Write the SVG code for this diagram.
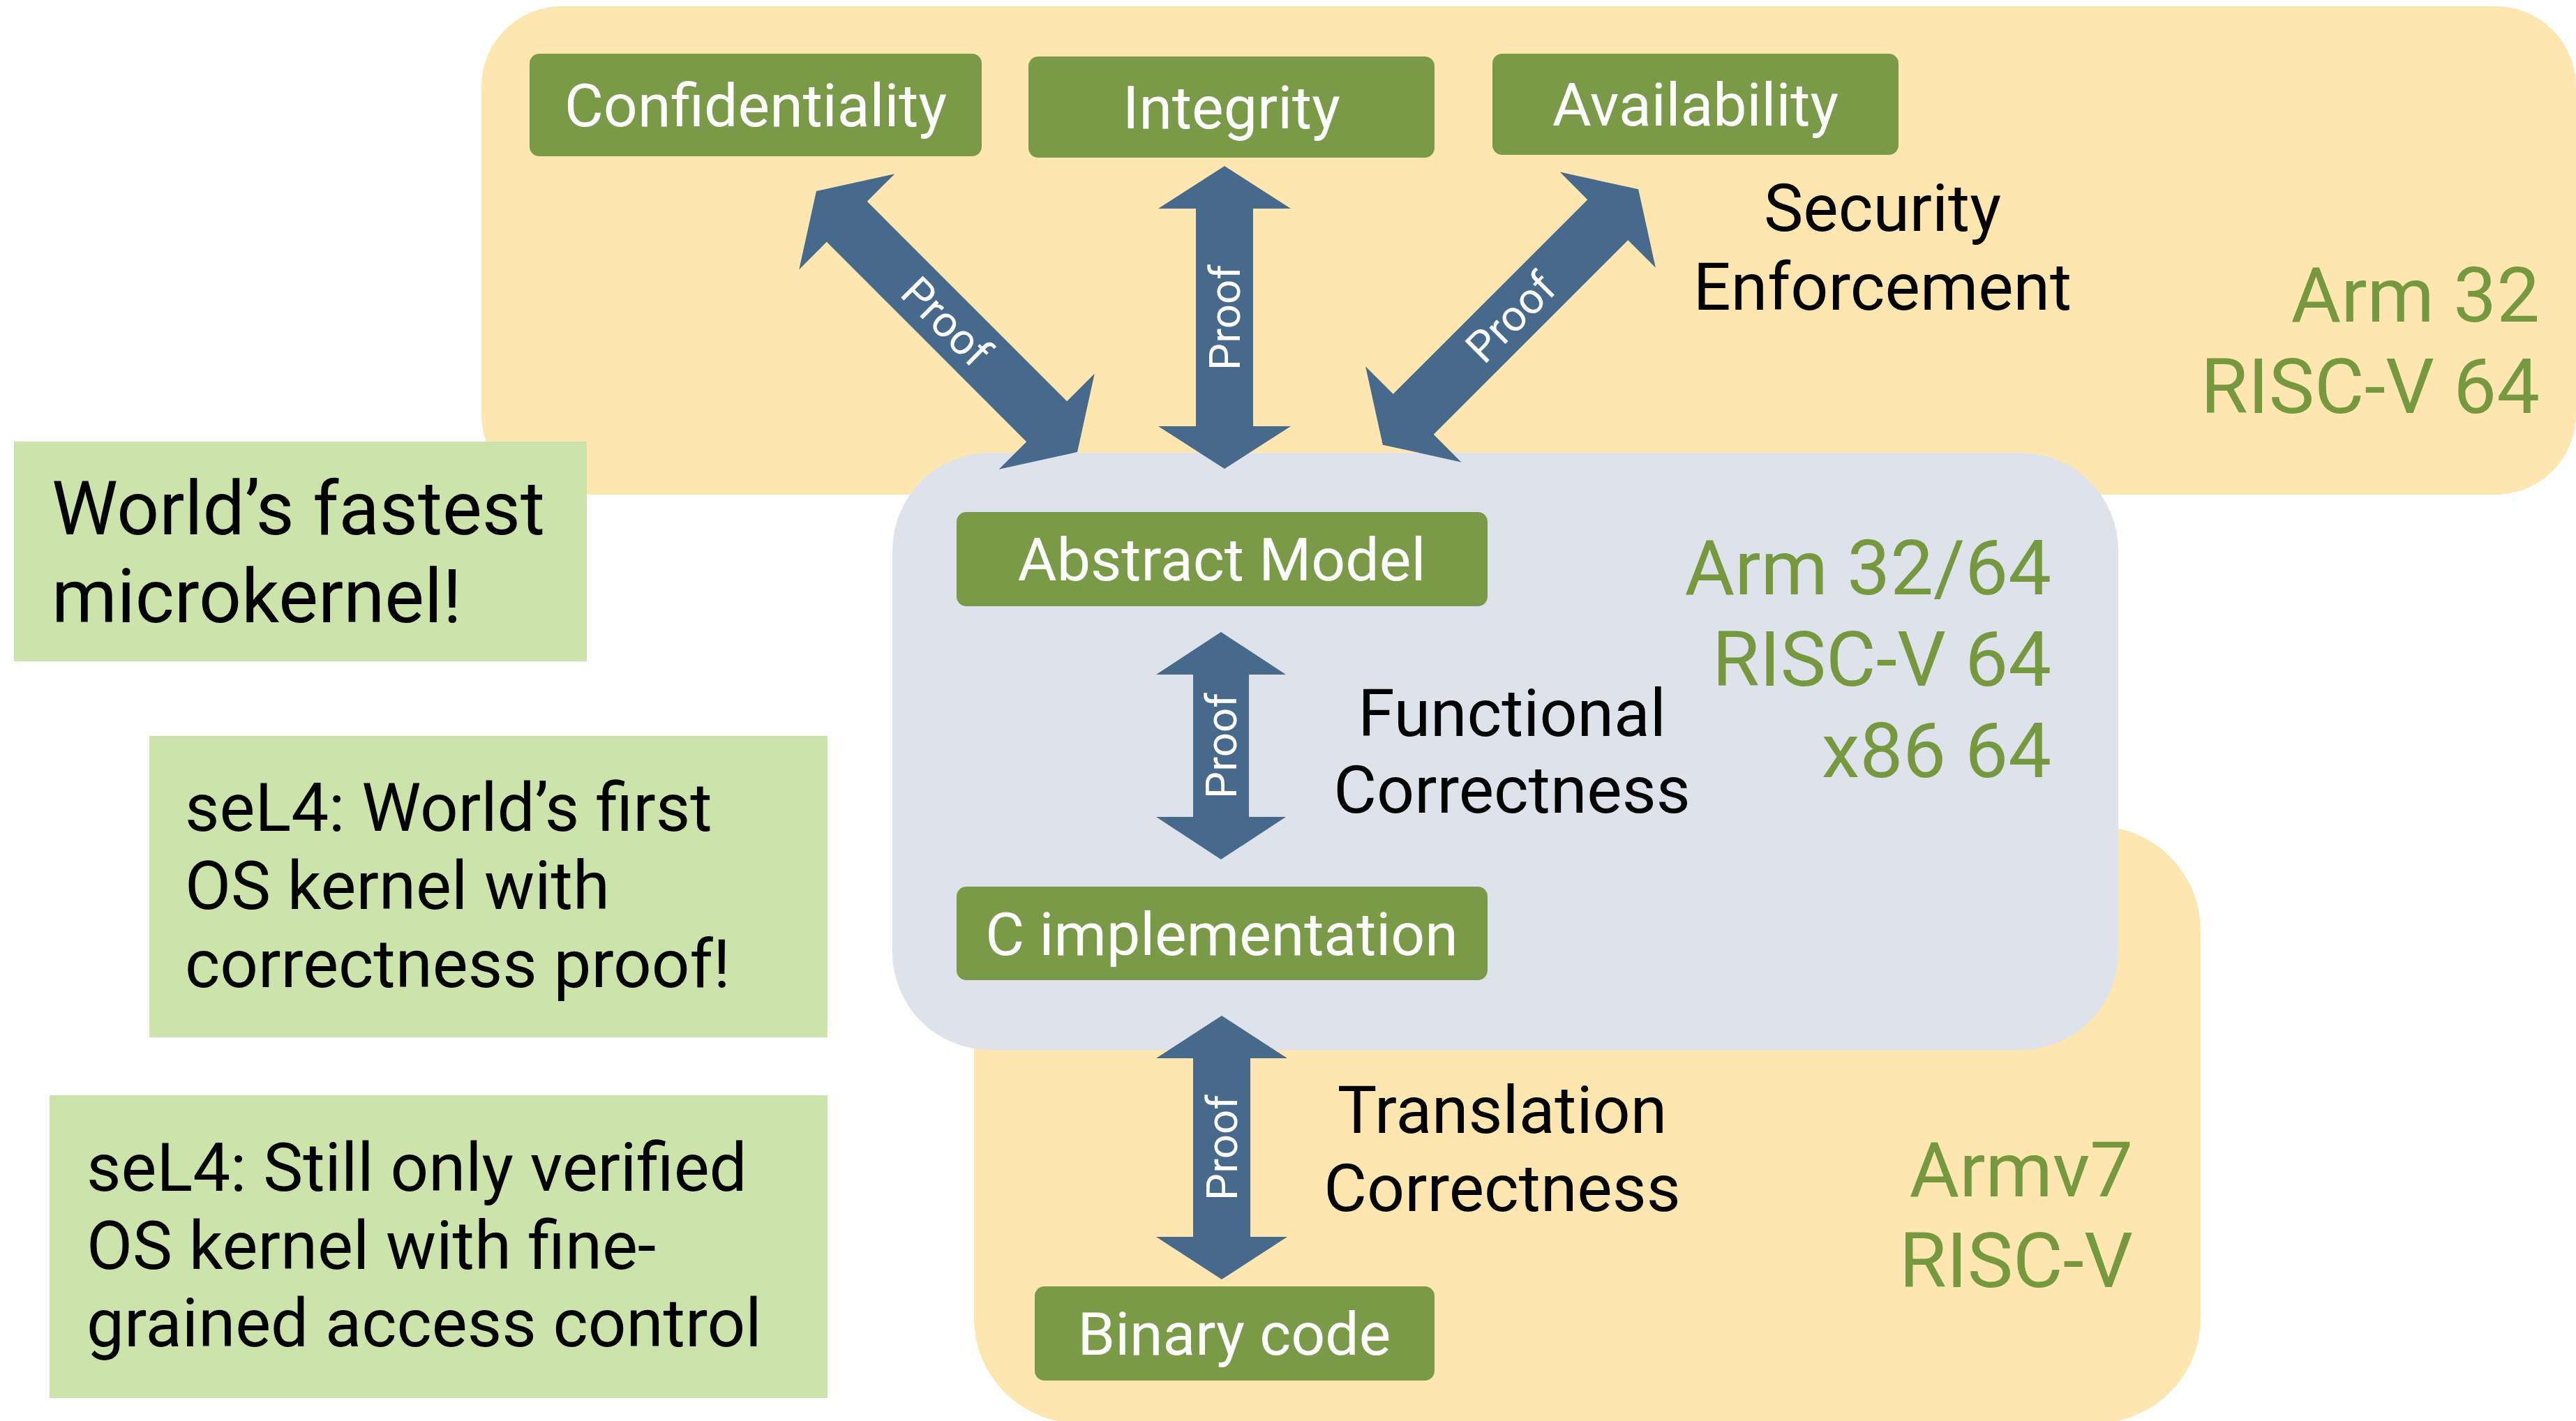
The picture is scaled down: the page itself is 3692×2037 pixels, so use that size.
<svg xmlns="http://www.w3.org/2000/svg" width="3692" height="2037" viewBox="0 0 3692 2037">
<style>
  .region-y { fill: #FDE6B0; }
  .region-g { fill: #DEE2EA; }
  .box { fill: #7A9A48; }
  .boxtxt { fill: #FFFFFF; font-family: Roboto, "Liberation Sans", sans-serif; font-size: 86px; text-anchor: middle; }
  .note { fill: #CCE4AC; }
  .notetxt { fill: #000000; font-family: Roboto, "Liberation Sans", sans-serif; font-size: 96px; }
  .arrow { fill: #476A8C; }
  .proof { fill: #FFFFFF; font-family: Roboto, "Liberation Sans", sans-serif; font-size: 62px; text-anchor: middle; }
  .lbl { fill: #000000; font-family: Roboto, "Liberation Sans", sans-serif; font-size: 95px; text-anchor: middle; }
  .arch { fill: #76983F; font-family: Roboto, "Liberation Sans", sans-serif; font-size: 110px; text-anchor: end; }
</style>

<g id="regions">
  <rect id="region-security" class="region-y" x="690" y="9" width="3002" height="700" rx="115" ry="115"/>
  <rect id="region-translation" class="region-y" x="1396" y="1184" width="1758" height="856" rx="150" ry="150"/>
  <rect id="region-functional" class="region-g" x="1279" y="649" width="1757" height="856" rx="140" ry="140"/>
</g>

<g id="notes">
  <g id="note-fastest">
    <rect class="note" x="20" y="633" width="821" height="315"/>
    <text class="notetxt" style="font-size:107px" x="74" y="766">World’s fastest</text>
    <text class="notetxt" style="font-size:107px" x="74" y="892">microkernel!</text>
  </g>
  <g id="note-first">
    <rect class="note" x="214" y="1055" width="972" height="432"/>
    <text class="notetxt" x="265" y="1191">seL4: World’s first</text>
    <text class="notetxt" x="265" y="1303">OS kernel with</text>
    <text class="notetxt" x="265" y="1415">correctness proof!</text>
  </g>
  <g id="note-only">
    <rect class="note" x="71" y="1570" width="1115" height="434"/>
    <text class="notetxt" x="124" y="1707">seL4: Still only verified</text>
    <text class="notetxt" x="124" y="1819">OS kernel with fine-</text>
    <text class="notetxt" x="124" y="1930">grained access control</text>
  </g>
</g>

<g id="connectors">
  <g id="arrow-confidentiality" transform="translate(1357,461) rotate(45)">
    <polygon class="arrow" points="-264.5,0 -202.5,-97 -202.5,-41 202.5,-41 202.5,-97 264.5,0 202.5,97 202.5,41 -202.5,41 -202.5,97"/>
    <text class="proof" x="0" y="22">Proof</text>
  </g>
  <g id="arrow-integrity" transform="translate(1755,455) rotate(-90)">
    <polygon class="arrow" points="-217,0 -156,-95 -156,-41 156,-41 156,-95 217,0 156,95 156,41 -156,41 -156,95"/>
    <text class="proof" x="0" y="22">Proof</text>
  </g>
  <g id="arrow-availability" transform="translate(2165,454.5) rotate(-45)">
    <polygon class="arrow" points="-259,0 -197,-97 -197,-41 197,-41 197,-97 259,0 197,97 197,41 -197,41 -197,97"/>
    <text class="proof" x="0" y="22">Proof</text>
  </g>
  <g id="arrow-functional" transform="translate(1750,1069) rotate(-90)">
    <polygon class="arrow" points="-163,0 -102,-93 -102,-40 102,-40 102,-93 163,0 102,93 102,40 -102,40 -102,93"/>
    <text class="proof" x="0" y="22">Proof</text>
  </g>
  <g id="arrow-translation" transform="translate(1751,1645) rotate(-90)">
    <polygon class="arrow" points="-189,0 -128,-94 -128,-41 128,-41 128,-94 189,0 128,94 128,41 -128,41 -128,94"/>
    <text class="proof" x="0" y="22">Proof</text>
  </g>
</g>

<g id="node-confidentiality">
  <rect class="box" x="759" y="77" width="648" height="147" rx="14"/>
  <text class="boxtxt" x="1083" y="181">Confidentiality</text>
</g>
<g id="node-integrity">
  <rect class="box" x="1474" y="81" width="582" height="145" rx="14"/>
  <text class="boxtxt" x="1765" y="184">Integrity</text>
</g>
<g id="node-availability">
  <rect class="box" x="2139" y="77" width="582" height="145" rx="14"/>
  <text class="boxtxt" x="2430" y="180">Availability</text>
</g>
<g id="node-abstract">
  <rect class="box" x="1371" y="734" width="761" height="135" rx="14"/>
  <text class="boxtxt" x="1751" y="832">Abstract Model</text>
</g>
<g id="node-c">
  <rect class="box" x="1371" y="1271" width="761" height="134" rx="14"/>
  <text class="boxtxt" x="1751" y="1369">C implementation</text>
</g>
<g id="node-binary">
  <rect class="box" x="1483" y="1844" width="573" height="135" rx="14"/>
  <text class="boxtxt" x="1769" y="1942">Binary code</text>
</g>

<g id="labels">
  <text class="lbl" x="2698" y="331">Security</text>
  <text class="lbl" x="2698" y="444">Enforcement</text>
  <text class="lbl" x="2167" y="1055">Functional</text>
  <text class="lbl" x="2167" y="1165">Correctness</text>
  <text class="lbl" x="2153" y="1624">Translation</text>
  <text class="lbl" x="2153" y="1736">Correctness</text>
  <text class="arch" x="3640" y="461">Arm 32</text>
  <text class="arch" x="3640" y="592">RISC-V 64</text>
  <text class="arch" x="2940" y="852">Arm 32/64</text>
  <text class="arch" x="2940" y="983">RISC-V 64</text>
  <text class="arch" x="2940" y="1114">x86 64</text>
  <text class="arch" x="3057" y="1715">Armv7</text>
  <text class="arch" x="3057" y="1845">RISC-V</text>
</g>
</svg>
